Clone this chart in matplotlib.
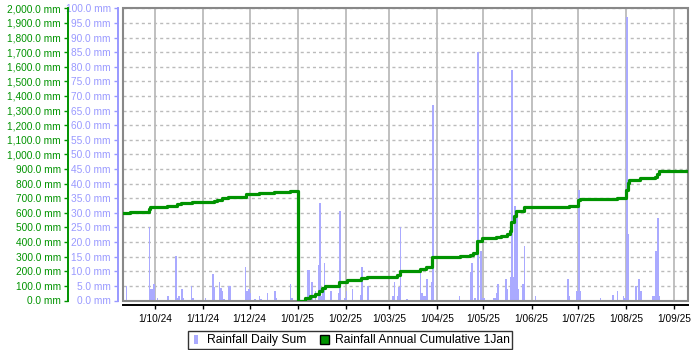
import matplotlib
matplotlib.use('Agg')
import matplotlib.pyplot as plt
import matplotlib.dates as mdates
from matplotlib.patches import Rectangle
from matplotlib.lines import Line2D
from matplotlib.ticker import FuncFormatter
import numpy as np
import datetime as dt

plt.rcParams['font.family'] = ['Liberation Sans', 'DejaVu Sans']

# ---------------- data ----------------
rain_dates = [
    "2024-09-12", "2024-09-14", "2024-09-27", "2024-09-28", "2024-09-29", "2024-09-30",
    "2024-10-02", "2024-10-09", "2024-10-14", "2024-10-15", "2024-10-16", "2024-10-18",
    "2024-10-19", "2024-10-24", "2024-10-25", "2024-10-26", "2024-10-28", "2024-11-02",
    "2024-11-07", "2024-11-08", "2024-11-11", "2024-11-12", "2024-11-13", "2024-11-14",
    "2024-11-17", "2024-11-18", "2024-11-28", "2024-11-29", "2024-11-30", "2024-12-01",
    "2024-12-04", "2024-12-07", "2024-12-08", "2024-12-12", "2024-12-17", "2024-12-18",
    "2024-12-27", "2024-12-28",
    "2025-01-05", "2025-01-07", "2025-01-08", "2025-01-09", "2025-01-10", "2025-01-12",
    "2025-01-14", "2025-01-15", "2025-01-16", "2025-01-17", "2025-01-18", "2025-01-19",
    "2025-01-22", "2025-01-27", "2025-01-28", "2025-01-29", "2025-01-31", "2025-02-01",
    "2025-02-05", "2025-02-10", "2025-02-11", "2025-02-15", "2025-02-26", "2025-03-01",
    "2025-03-03", "2025-03-04", "2025-03-06", "2025-03-07", "2025-03-08", "2025-03-09",
    "2025-03-10", "2025-03-12", "2025-03-21", "2025-03-22", "2025-03-23", "2025-03-24",
    "2025-03-25", "2025-03-28", "2025-03-29", "2025-03-30", "2025-04-11", "2025-04-14",
    "2025-04-15", "2025-04-22", "2025-04-23", "2025-04-25", "2025-04-26", "2025-04-27",
    "2025-04-28", "2025-04-29", "2025-04-30", "2025-05-01", "2025-05-05", "2025-05-07",
    "2025-05-08", "2025-05-09", "2025-05-10", "2025-05-11", "2025-05-12", "2025-05-15",
    "2025-05-16", "2025-05-18", "2025-05-19", "2025-05-20", "2025-05-21", "2025-05-22",
    "2025-05-23", "2025-05-26", "2025-05-27", "2025-06-02", "2025-06-03", "2025-06-18",
    "2025-06-21", "2025-06-24", "2025-06-25", "2025-06-30", "2025-07-01", "2025-07-02",
    "2025-07-15", "2025-07-22", "2025-07-23", "2025-07-26", "2025-07-30", "2025-07-31",
    "2025-08-01", "2025-08-02", "2025-08-03", "2025-08-07", "2025-08-09", "2025-08-10",
    "2025-08-13", "2025-08-18", "2025-08-19", "2025-08-20", "2025-08-21", "2025-08-22",
]
rain_mm = [
    4.8, 0.3, 25.3, 4.0, 3.8, 5.8,
    0.7, 1.4, 15.4, 0.8, 1.7, 4.1,
    1.0, 5.0, 0.8, 0.2, 0.2, 0.7,
    8.9, 4.5, 6.2, 4.2, 3.1, 0.5,
    5.0, 5.0, 11.6, 3.1, 4.1, 2.4,
    0.4, 1.7, 0.4, 2.7, 3.1, 1.0,
    5.8, 1.0,
    0.4, 10.3, 10.6, 1.4, 6.2, 3.4,
    12.3, 33.2, 1.4, 4.1, 13.0, 0.3,
    3.1, 2.7, 30.8, 0.3, 1.0, 3.4,
    3.8, 2.0, 11.3, 5.1, 0.3, 0.3,
    1.4, 6.5, 1.7, 4.5, 25.0, 0.3,
    0.3, 0.4, 9.9, 2.7, 1.7, 1.7,
    7.5, 6.2, 67.0, 0.3, 0.3, 0.3,
    1.4, 9.6, 13.0, 1.0, 0.3, 85.0,
    0.3, 17.1, 1.0, 1.0, 0.3, 1.0,
    1.0, 2.7, 5.5, 0.3, 0.3, 7.5,
    3.8, 8.2, 78.8, 8.0, 32.5, 29.7,
    4.1, 5.8, 18.5, 0.3, 1.7, 0.3,
    0.3, 7.5, 1.4, 3.4, 37.7, 3.4,
    0.7, 0.3, 2.0, 3.1, 1.7, 0.7,
    97.0, 22.6, 0.3, 5.1, 7.2, 3.4,
    0.3, 1.7, 1.4, 17.1, 28.4, 1.4,
]

cum_dates = [
    "2024-09-10", "2024-09-15", "2024-09-27", "2024-09-28", "2024-10-09", "2024-10-15",
    "2024-10-18", "2024-10-25", "2024-11-08", "2024-11-10", "2024-11-13", "2024-11-17",
    "2024-11-29", "2024-12-07", "2024-12-17", "2024-12-27",
    "2025-01-01", "2025-01-06", "2025-01-09", "2025-01-12", "2025-01-15", "2025-01-17",
    "2025-01-19", "2025-01-28", "2025-02-02", "2025-02-11", "2025-02-15", "2025-03-06",
    "2025-03-08", "2025-03-21", "2025-03-25", "2025-03-29", "2025-04-16", "2025-04-22",
    "2025-04-24", "2025-04-27", "2025-04-30", "2025-05-09", "2025-05-12", "2025-05-16",
    "2025-05-18", "2025-05-19", "2025-05-21", "2025-05-22", "2025-05-27", "2025-06-25",
    "2025-07-01", "2025-07-02", "2025-07-26", "2025-08-01", "2025-08-02", "2025-08-03",
    "2025-08-10", "2025-08-20", "2025-08-21", "2025-08-22", "2025-09-09",
]
cum_mm = [
    598, 605, 625, 637, 646, 660,
    666, 673, 683, 690, 700, 708,
    726, 735, 742, 749,
    0, 20, 34, 45, 68, 87,
    96, 130, 141, 153, 162, 173,
    199, 215, 228, 297, 304, 310,
    324, 406, 427, 434, 440, 456,
    479, 537, 578, 610, 637, 646,
    685, 692, 701, 753, 803, 822,
    836, 845, 868, 885, 885,
]

month_ticks = ["2024-10-01", "2024-11-01", "2024-12-01", "2025-01-01", "2025-02-01",
               "2025-03-01", "2025-04-01", "2025-05-01", "2025-06-01", "2025-07-01",
               "2025-08-01", "2025-09-01"]
month_labels = ["1/10/24", "1/11/24", "1/12/24", "1/01/25", "1/02/25", "1/03/25",
                "1/04/25", "1/05/25", "1/06/25", "1/07/25", "1/08/25", "1/09/25"]

series_labels = ["Rainfall Daily Sum", "Rainfall Annual Cumulative 1Jan"]

# ---------------- style ----------------
BLUE = '#aaaaff'
BLUE_TXT = '#9999ff'
GREEN = '#009300'
FRAME = '#888888'
PX = 72 / 100.0  # points per pixel


def to_num(ds):
    return mdates.date2num([dt.datetime.strptime(d, "%Y-%m-%d") for d in ds])


fig = plt.figure(figsize=(7, 3.5), dpi=100)
L, R, T, B = 123, 688, 8.3, 300.5
ax = fig.add_axes([L / 700, (350 - B) / 350, (R - L) / 700, (B - T) / 350])

x0 = mdates.date2num(dt.datetime(2024, 9, 10)) + 0.35
x1 = mdates.date2num(dt.datetime(2025, 9, 10))

# bars
ax.bar(to_num(rain_dates), rain_mm, width=1.0, align='edge', color=BLUE,
       linewidth=0, zorder=2)
ax.set_xlim(x0, x1)
ax.set_ylim(0, 100)
ax.set_yticks(np.arange(0, 100.1, 5))
ax.yaxis.set_major_formatter(FuncFormatter(lambda v, p: f"{v:,.1f} mm"))
ax.set_xticks(to_num(month_ticks))
ax.set_xticklabels(month_labels)
ax.set_axisbelow(True)
ax.yaxis.grid(True, linestyle=(0, (2.2, 2.2)), color='#bbbbbb', linewidth=1.0)
ax.xaxis.grid(True, linestyle='-', color='#bbbbbb', linewidth=1.3)

for s in ('top', 'right'):
    ax.spines[s].set_visible(False)
ax.spines['left'].set_position(('outward', 5 * PX))
ax.spines['left'].set_color(BLUE_TXT)
ax.spines['left'].set_linewidth(1.4)
ax.spines['bottom'].set_position(('outward', 4.5 * PX))
ax.spines['bottom'].set_color('black')
ax.spines['bottom'].set_linewidth(1.4)
ax.tick_params(axis='y', colors=BLUE_TXT, labelsize=7.3, length=3 * PX * 1.4,
               width=1.0, pad=3 * PX, direction='out')
ax.tick_params(axis='x', colors='black', labelsize=7.3, length=3 * PX * 1.4,
               width=1.0, pad=5 * PX, direction='out')

# frame
ax.add_patch(Rectangle((0, 0), 1, 1, transform=ax.transAxes, fill=False,
                       edgecolor=FRAME, linewidth=1.5, clip_on=False, zorder=6))

# cumulative
ax2 = ax.twinx()
ax2.step(to_num(cum_dates), cum_mm, where='post', color=GREEN, linewidth=2.3, zorder=3)
ax2.set_ylim(0, 2000)
ax2.set_xlim(x0, x1)
ax2.set_yticks(np.arange(0, 2000.1, 100))
ax2.yaxis.set_major_formatter(FuncFormatter(lambda v, p: f"{v:,.1f} mm"))
ax2.yaxis.tick_left()
for s in ('top', 'right', 'bottom'):
    ax2.spines[s].set_visible(False)
ax2.spines['left'].set_visible(True)
ax2.spines['left'].set_position(('outward', 55 * PX))
ax2.spines['left'].set_color(GREEN)
ax2.spines['left'].set_linewidth(1.4)
ax2.tick_params(axis='y', colors=GREEN, labelsize=7.3, length=3 * PX * 1.4,
                width=1.0, pad=3 * PX, direction='out')

# legend
h1 = Line2D([], [], linestyle='', marker=[(-0.48, -1), (0.48, -1), (0.48, 1), (-0.48, 1), (-0.48, -1)],
            markerfacecolor=BLUE, markeredgewidth=0, markersize=9 * PX * 1.0)
h2 = Line2D([], [], linestyle='', marker='s', markerfacecolor=GREEN,
            markeredgecolor='black', markeredgewidth=1.0, markersize=9 * PX)
leg = fig.legend([h1, h2], series_labels, loc='center', bbox_to_anchor=(0.5, 10 / 350),
                 ncol=2, frameon=True, fancybox=False, edgecolor='black', fontsize=8.7,
                 handlelength=0.9, handletextpad=0.45, columnspacing=1.0,
                 borderpad=0.25, borderaxespad=0)
leg.get_frame().set_linewidth(1.0)

fig.savefig('out.png', dpi=100)
